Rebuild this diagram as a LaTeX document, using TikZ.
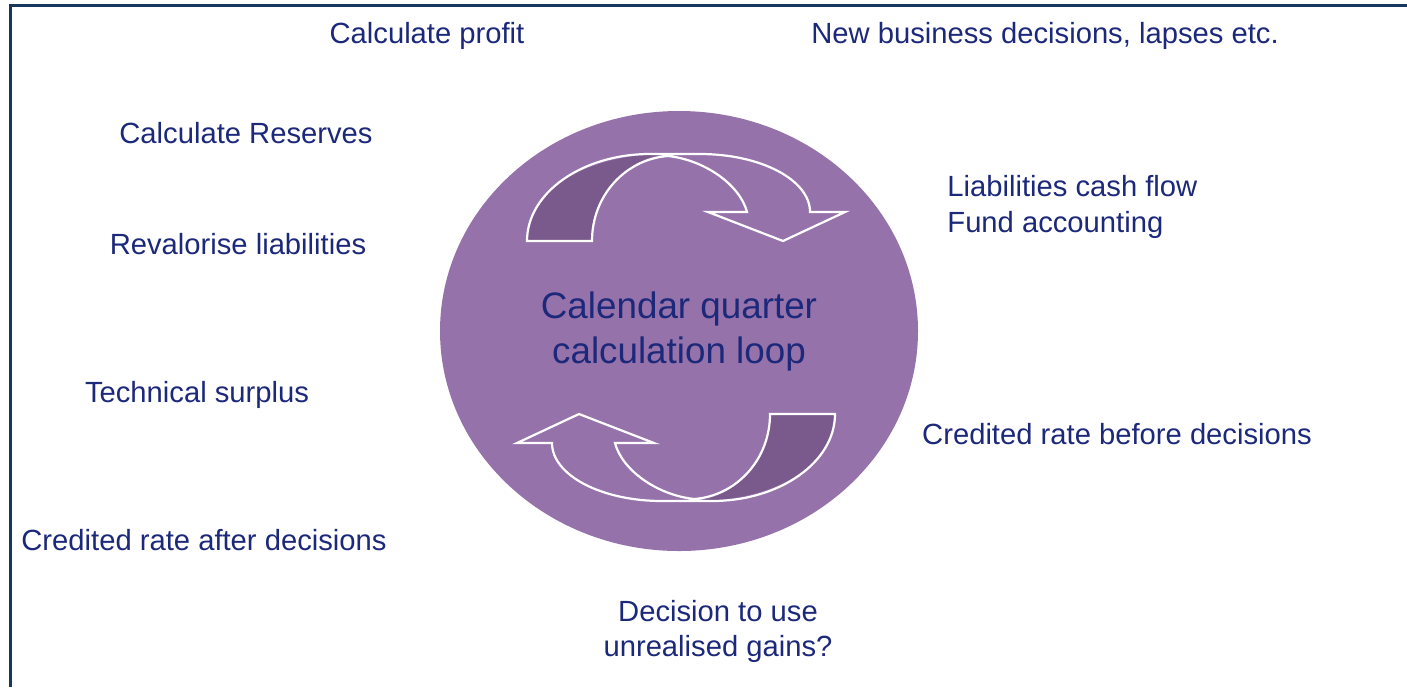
\documentclass[tikz,border=0pt]{standalone}
\usepackage{fontspec}
\setmainfont{Liberation Sans}
\definecolor{navy}{RGB}{28,40,122}
\definecolor{frameblue}{RGB}{23,55,94}
\definecolor{lilac}{RGB}{150,114,171}
\definecolor{plum}{RGB}{122,90,140}
\tikzset{
  lbl/.style={inner sep=0pt, text=navy, font=\fontsize{14.6}{17.5}\selectfont},
  big/.style={inner sep=0pt, text=navy, align=center, font=\fontsize{18.4}{22.5}\selectfont},
  ribbon/.style={draw=white, line width=1.1pt, line join=miter},
}
\begin{document}
\begin{tikzpicture}[x=0.5pt,y=-0.5pt]
\useasboundingbox (0,0) rectangle (1407,687);
% frame
\draw[frameblue, line width=1.5pt] (10,687) -- (10,5) -- (1407,5);
% circle
\fill[lilac] (679,331) ellipse [x radius=239, y radius=220];
% top arrow
\begin{scope}
\fill[plum] (527,241) .. controls (527,193) and (582,154) .. (668,154)
  .. controls (626,157) and (592,195) .. (592,241) -- cycle;
\draw[ribbon] (527,241) .. controls (527,193) and (582,154) .. (650,154) -- (700,154)
  .. controls (761,154) and (810,180) .. (810,212) -- (845,212) -- (783,241) -- (708,212) -- (747,212)
  .. controls (740,185) and (705,160) .. (668,156)
  .. controls (626,159) and (592,195) .. (592,241) -- cycle;
\end{scope}
% bottom arrow (point reflection)
\begin{scope}[shift={(681,327.5)}, rotate=180, shift={(-681,-327.5)}]
\fill[plum] (527,241) .. controls (527,193) and (582,154) .. (668,154)
  .. controls (626,157) and (592,195) .. (592,241) -- cycle;
\draw[ribbon] (527,241) .. controls (527,193) and (582,154) .. (650,154) -- (700,154)
  .. controls (761,154) and (810,180) .. (810,212) -- (845,212) -- (783,241) -- (708,212) -- (747,212)
  .. controls (740,185) and (705,160) .. (668,156)
  .. controls (626,159) and (592,195) .. (592,241) -- cycle;
\end{scope}
% texts
\node[big] (centre) at (679,331) {Calendar quarter\\calculation loop};
\node[lbl] (profit) at (427,36) {Calculate profit};
\node[lbl] (newbiz) at (1045,36) {New business decisions, lapses etc.};
\node[lbl] (reserves) at (246,133) {Calculate Reserves};
\node[lbl] (revalorise) at (238,244) {Revalorise liabilities};
\node[lbl] (surplus) at (197,395) {Technical surplus};
\node[lbl] (after) at (204,540) {Credited rate after decisions};
\node[lbl, align=center] (decision) at (718,631) {Decision to use\\unrealised gains?};
\node[lbl, align=left, anchor=west, font=\fontsize{14.6}{18}\selectfont] (cashflow) at (947,207) {Liabilities cash flow\\Fund accounting};
\node[lbl] (before) at (1117,434) {Credited rate before decisions};
\end{tikzpicture}
\end{document}
